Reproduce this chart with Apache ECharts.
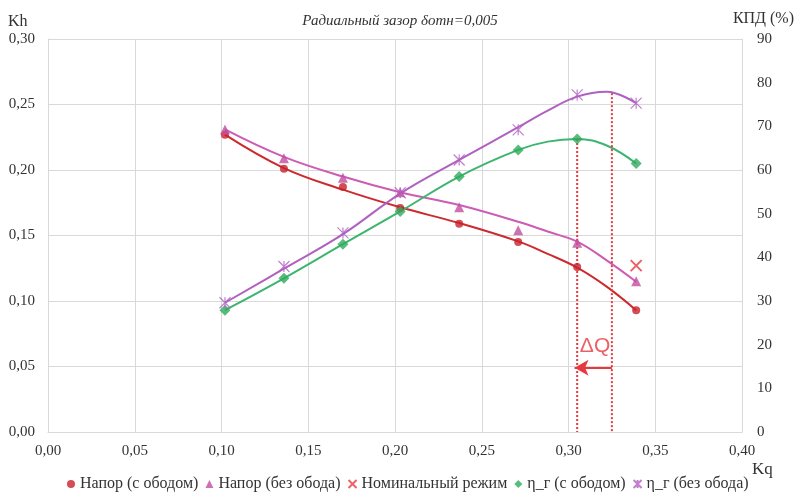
<!DOCTYPE html>
<html>
<head>
<meta charset="utf-8">
<script src="https://cdn.jsdelivr.net/npm/echarts@6/dist/echarts.min.js"></script>
<style>
html,body{margin:0;padding:0;background:#fff}
#main{width:800px;height:499px}
</style>
</head>
<body>
<div id="main"></div>
<script>
// расход Kq в точках испытаний
const kq = [0.102, 0.136, 0.170, 0.203, 0.237, 0.271, 0.305, 0.339];
// напор Kh (левая ось)
const headRim = [0.227, 0.201, 0.187, 0.171, 0.159, 0.145, 0.126, 0.093];
const headNoRim = [0.231, 0.209, 0.194, 0.183, 0.1715, 0.154, 0.1445, 0.115];
// КПД, % (правая ось)
const effRim = [27.9, 35.2, 43.0, 50.5, 58.5, 64.6, 67.1, 61.5];
const effNoRim = [29.6, 37.9, 45.6, 54.8, 62.3, 69.2, 77.2, 75.3];
// номинальный режим
const nominal = [[0.339, 0.127]];

// линии тренда
const trendKq = [0.102, 0.136, 0.170, 0.203, 0.237, 0.271, 0.288, 0.305, 0.322, 0.339];
const headRimTrend = [0.227, 0.2015, 0.185, 0.1715, 0.1595, 0.1455, 0.136, 0.1255, 0.111, 0.093];
const headNoRimTrend = [0.231, 0.210, 0.195, 0.183, 0.1733, 0.1605, 0.153, 0.1453, 0.131, 0.1147];
const effRimTrend = [27.9, 35.2, 43.0, 50.5, 58.5, 64.6, 66.5, 67.1, 65.6, 61.5];
const effNoRimTrend = [29.6, 37.4, 45.3, 54.6, 62.3, 69.8, 73.6, 76.8, 77.9, 75.3];

// ΔQ
const qOpt = 0.305, qNom = 0.325;
const qOptEff = 67.1, qNomEff = 77.6;
const arrowKh = 0.049;
const dqLabelPos = [0.3153, 0.0656];

const xTicks = ['0,00', '0,05', '0,10', '0,15', '0,20', '0,25', '0,30', '0,35', '0,40'];

const serif = 'Liberation Serif';
const txt = '#333';
const grey = '#d9d9d9';
const cRed = '#c8202a', cRedLine = '#cc2a2e';
const cTri = '#c04ea0', cTriLine = '#cc5cb4';
const cStar = '#b060c0';
const cGreen = '#2faa5c', cGreenLine = '#3cb56e';
const cMark = '#e8383d';

const pairs = (xs, ys) => xs.map((x, i) => [x, ys[i]]);
const comma = v => v.toFixed(2).replace('.', ',');

let chart = echarts.init(document.getElementById('main'), null, {renderer: 'canvas'});

chart.setOption({
  animation: false,
  backgroundColor: '#fff',
  textStyle: {fontFamily: serif},
  grid: {left: 48, right: 58, top: 39, bottom: 67, containLabel: false},
  title: {
    text: 'Радиальный зазор δотн=0,005',
    left: 'center', top: 9,
    textStyle: {fontFamily: serif, fontStyle: 'italic', fontWeight: 'normal', fontSize: 15, color: txt}
  },
  graphic: [
    {type: 'text', left: 8, top: 14, style: {text: 'Kh', font: '16px "Liberation Serif"', fill: txt}},
    {type: 'text', right: 6, top: 11, style: {text: 'КПД (%)', font: '16px "Liberation Serif"', fill: txt}},
    {type: 'text', left: 752, top: 461, style: {text: 'Kq', font: '17px "Liberation Serif"', fill: txt}}
  ],
  legend: {
    bottom: 2, left: 62,
    itemWidth: 8, itemHeight: 8, itemGap: 7,
    textStyle: {fontFamily: serif, fontSize: 16, color: txt},
    data: ['Напор (с ободом)', 'Напор (без обода)', 'Номинальный режим', 'η_г (с ободом)', 'η_г (без обода)']
  },
  xAxis: {
    type: 'value', min: 0, max: 0.4, interval: 0.05,
    axisLine: {lineStyle: {color: grey}},
    axisTick: {show: false},
    axisLabel: {fontFamily: serif, fontSize: 15, color: txt, margin: 12, formatter: v => xTicks[Math.round(v / 0.05)]},
    splitLine: {show: true, lineStyle: {color: grey, width: 1}}
  },
  yAxis: [{
    type: 'value', min: 0, max: 0.3, interval: 0.05,
    axisLine: {show: true, lineStyle: {color: grey}},
    axisTick: {show: false},
    axisLabel: {fontFamily: serif, fontSize: 15, color: txt, margin: 13, formatter: comma},
    splitLine: {show: true, lineStyle: {color: grey, width: 1}}
  }, {
    type: 'value', min: 0, max: 90, interval: 10, position: 'right',
    axisLine: {show: true, lineStyle: {color: grey}},
    axisTick: {show: false},
    axisLabel: {fontFamily: serif, fontSize: 15, color: txt, margin: 15},
    splitLine: {show: false}
  }],
  series: [
    // линии тренда
    {type: 'line', yAxisIndex: 0, smooth: 0.4, symbol: 'none', silent: true, data: pairs(trendKq, headRimTrend), lineStyle: {color: cRedLine, width: 2}, z: 2},
    {type: 'line', yAxisIndex: 0, smooth: 0.4, symbol: 'none', silent: true, data: pairs(trendKq, headNoRimTrend), lineStyle: {color: cTriLine, width: 2}, z: 2},
    {type: 'line', yAxisIndex: 1, smooth: 0.4, symbol: 'none', silent: true, data: pairs(trendKq, effRimTrend), lineStyle: {color: cGreenLine, width: 2}, z: 2},
    {type: 'line', yAxisIndex: 1, smooth: 0.4, symbol: 'none', silent: true, data: pairs(trendKq, effNoRimTrend), lineStyle: {color: cStar, width: 2}, z: 2},
    // пунктир ΔQ
    {type: 'line', yAxisIndex: 1, symbol: 'none', silent: true, data: [[qOpt, qOptEff], [qOpt, 0]], lineStyle: {color: cMark, width: 2, type: [2, 2]}, z: 3},
    {type: 'line', yAxisIndex: 1, symbol: 'none', silent: true, data: [[qNom, qNomEff], [qNom, 0]], lineStyle: {color: cMark, width: 2, type: [2, 2]}, z: 3},
    // стрелка и подпись ΔQ
    {
      type: 'scatter', yAxisIndex: 0, symbolSize: 0, silent: true,
      data: [dqLabelPos],
      label: {show: true, position: 'inside', formatter: 'ΔQ', fontFamily: 'Liberation Sans', fontSize: 21, color: cMark},
      markLine: {
        silent: true, symbol: ['none', 'arrow'], symbolSize: [12, 14],
        lineStyle: {color: cMark, width: 2, type: 'solid'},
        label: {show: false},
        data: [[{coord: [qNom, arrowKh]}, {coord: [qOpt - 0.0015, arrowKh]}]]
      }
    },
    // точки
    {name: 'Напор (с ободом)', type: 'scatter', yAxisIndex: 0, symbol: 'circle', symbolSize: 8, data: pairs(kq, headRim), itemStyle: {color: cRed}, z: 5},
    {name: 'Напор (без обода)', type: 'scatter', yAxisIndex: 0, symbol: 'triangle', symbolSize: 10, data: pairs(kq, headNoRim), itemStyle: {color: cTri}, z: 5},
    {name: 'Номинальный режим', type: 'scatter', yAxisIndex: 0, symbol: 'path://M0,0L10,10M10,0L0,10', symbolSize: 11, data: nominal, itemStyle: {color: 'rgba(0,0,0,0)', borderColor: cMark, borderWidth: 2}, z: 5},
    {name: 'η_г (с ободом)', type: 'scatter', yAxisIndex: 1, symbol: 'diamond', symbolSize: 11, data: pairs(kq, effRim), itemStyle: {color: cGreen}, z: 5},
    {name: 'η_г (без обода)', type: 'scatter', yAxisIndex: 1, symbol: 'path://M0,0L10,10M10,0L0,10M5,0L5,10', symbolSize: 11, data: pairs(kq, effNoRim), itemStyle: {color: 'rgba(0,0,0,0)', borderColor: cStar, borderWidth: 1.2}, z: 5}
  ]
});
</script>
</body>
</html>
